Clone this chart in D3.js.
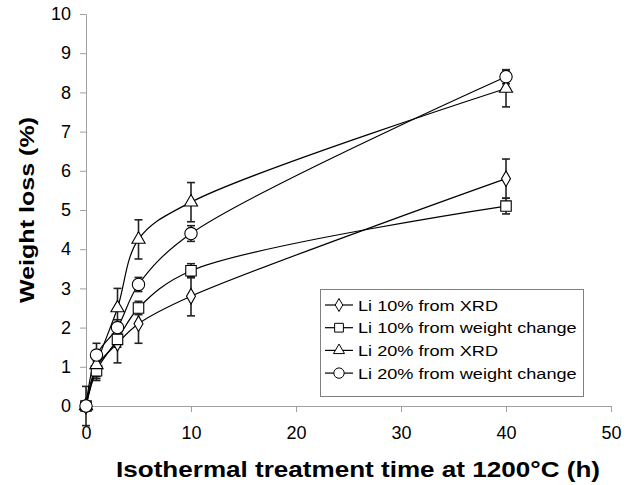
<!DOCTYPE html>
<html>
<head>
<meta charset="utf-8">
<script src="https://cdn.jsdelivr.net/npm/d3@7"></script>
<style>
body{margin:0;background:#fff;}
svg{font-family:"Liberation Sans",Arial,sans-serif;}
</style>
</head>
<body>
<svg class="chart" width="634" height="485"></svg>
<script>
// data
var times = [0, 1, 3, 5, 10, 40];
var li10Xrd = [0, 1.0, 1.6, 2.1, 2.8, 5.8];
var li10XrdErr = [0.5, 0.3, 0.5, 0.5, 0.5, 0.5];
var li10Wt = [0, 0.9, 1.7, 2.5, 3.45, 5.1];
var li10WtErr = [0.05, 0.25, 0.2, 0.17, 0.18, 0.2];
var li20Xrd = [0, 1.05, 2.5, 4.25, 5.2, 8.1];
var li20XrdErr = [0.05, 0.3, 0.5, 0.5, 0.5, 0.47];
var li20Wt = [0, 1.3, 2.0, 3.1, 4.4, 8.4];
var li20WtErr = [0.05, 0.3, 0.2, 0.18, 0.2, 0.18];
var seriesNames = ["Li 10% from XRD", "Li 10% from weight change", "Li 20% from XRD", "Li 20% from weight change"];
var symbols = ["diamond", "square", "triangle", "circle"];
var xTicks = [0, 10, 20, 30, 40, 50];
var yTicks = [0, 1, 2, 3, 4, 5, 6, 7, 8, 9, 10];

var W = 634, H = 485;
var m = {l:86, r:23, t:14, b:79};
var svg = d3.select("svg.chart");

var x = d3.scaleLinear().domain([0,50]).range([m.l, W-m.r]);
var y = d3.scaleLinear().domain([0,10]).range([H-m.b, m.t]);

var series = [
    {name:seriesNames[0], v:li10Xrd, e:li10XrdErr, sym:symbols[0]},
    {name:seriesNames[1], v:li10Wt, e:li10WtErr, sym:symbols[1]},
    {name:seriesNames[2], v:li20Xrd, e:li20XrdErr, sym:symbols[2]},
    {name:seriesNames[3], v:li20Wt, e:li20WtErr, sym:symbols[3]}
];

// axes
var xAxis = svg.append("g")
    .attr("transform","translate(0,"+(H-m.b)+")")
    .call(d3.axisBottom(x).tickValues(xTicks).tickSize(6).tickPadding(14));
var yAxis = svg.append("g")
    .attr("transform","translate("+m.l+",0)")
    .call(d3.axisLeft(y).tickValues(yTicks).tickSize(6).tickPadding(9));
[xAxis,yAxis].forEach(function(a){
    a.select(".domain").attr("stroke","#a0a0a0");
    a.selectAll(".tick line").attr("stroke","#a0a0a0");
    a.selectAll(".tick text")
        .attr("font-family","Liberation Sans, Arial, sans-serif")
        .attr("font-size",18)
        .attr("fill","#000");
});

// titles (the picture is a bit stretched, so fit the lengths)
svg.append("text")
    .attr("x",116)
    .attr("y",477)
    .attr("font-size",21.5)
    .attr("font-weight","bold")
    .attr("textLength",484)
    .attr("lengthAdjust","spacingAndGlyphs")
    .text("Isothermal treatment time at 1200°C (h)");
svg.append("text")
    .attr("transform","translate(34,303) rotate(-90)")
    .attr("font-size",21)
    .attr("font-weight","bold")
    .attr("textLength",186)
    .attr("lengthAdjust","spacingAndGlyphs")
    .text("Weight loss (%)");

var symType = {diamond:d3.symbolDiamond, square:d3.symbolSquare, triangle:d3.symbolTriangle, circle:d3.symbolCircle};
var symSize = {diamond:70, square:110, triangle:75, circle:120};

var line = d3.line()
    .x(function(d){return x(d.t);})
    .y(function(d){return y(d.v);})
    .curve(d3.curveCatmullRom.alpha(0.5));

series.forEach(function(s){
    var pts = times.map(function(t,i){return {t:t, v:s.v[i], e:s.e[i]};});
    var g = svg.append("g");
    g.append("path")
        .datum(pts)
        .attr("d",line)
        .attr("fill","none")
        .attr("stroke","#000")
        .attr("stroke-width",1.2);
    var eb = g.selectAll("g.eb").data(pts).enter().append("g");
    eb.append("line")
        .attr("x1",function(d){return x(d.t);})
        .attr("x2",function(d){return x(d.t);})
        .attr("y1",function(d){return y(d.v-d.e);})
        .attr("y2",function(d){return y(d.v+d.e);})
        .attr("stroke","#222").attr("stroke-width",1.6);
    [-1,1].forEach(function(k){
        eb.append("line")
            .attr("x1",function(d){return x(d.t)-4;})
            .attr("x2",function(d){return x(d.t)+4;})
            .attr("y1",function(d){return y(d.v+k*d.e);})
            .attr("y2",function(d){return y(d.v+k*d.e);})
            .attr("stroke","#222").attr("stroke-width",1.6);
    });
});

// markers on top
series.forEach(function(s){
    svg.append("g").selectAll("path")
        .data(times.map(function(t,i){return {t:t, v:s.v[i]};}))
        .enter().append("path")
        .attr("transform",function(d){return "translate("+x(d.t)+","+y(d.v)+")";})
        .attr("d",d3.symbol().type(symType[s.sym]).size(symSize[s.sym]))
        .attr("fill","#fff")
        .attr("stroke","#000")
        .attr("stroke-width",1.1);
});

// legend
var lg = svg.append("g");
lg.append("rect")
    .attr("x",320.5).attr("y",289.5)
    .attr("width",263).attr("height",107)
    .attr("fill","#fff").attr("stroke","#808080");
series.forEach(function(s,i){
    var cy = 305 + i*22.7;
    lg.append("line")
        .attr("x1",325).attr("x2",353)
        .attr("y1",cy).attr("y2",cy)
        .attr("stroke","#000").attr("stroke-width",1.2);
    lg.append("path")
        .attr("transform","translate(339,"+cy+")")
        .attr("d",d3.symbol().type(symType[s.sym]).size(symSize[s.sym]*0.7))
        .attr("fill","#fff").attr("stroke","#000").attr("stroke-width",1);
    lg.append("text")
        .attr("transform","translate(358,"+(cy+5.5)+") scale(1.17,1)")
        .attr("font-size",15.5)
        .text(s.name);
});
</script>
</body>
</html>
